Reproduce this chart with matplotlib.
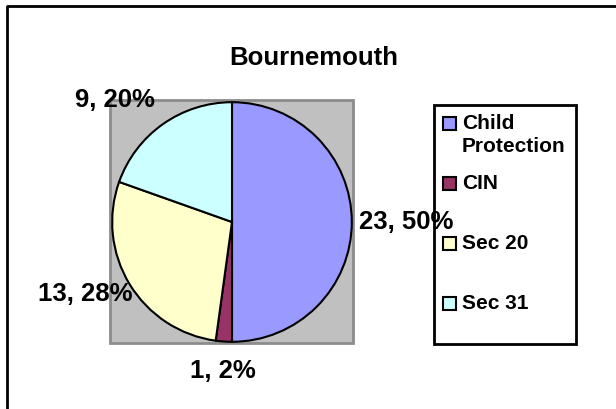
import matplotlib.pyplot as plt
import numpy as np
from matplotlib.patches import Rectangle

plt.rcParams['font.family'] = ['Liberation Sans', 'DejaVu Sans']

titulo = "Bournemouth"
categorias = ["Child\nProtection", "CIN", "Sec 20", "Sec 31"]
valores = [23, 1, 13, 9]
colores = ["#9999FF", "#993366", "#FFFFCC", "#CCFFFF"]

W, H = 616, 409
fig = plt.figure(figsize=(W / 100, H / 100), dpi=100)

# lienzo en pixeles (borde, titulo, leyenda)
lienzo = fig.add_axes([0, 0, 1, 1])
lienzo.set_xlim(0, W)
lienzo.set_ylim(H, 0)
lienzo.axis("off")

lienzo.plot([7, 7, W + 5], [H + 5, 5.5, 5.5], color="black", lw=2, clip_on=False)
lienzo.text(314, 58, titulo, ha="center", va="center", fontsize=18.5, fontweight="bold")

# area del grafico gris
lienzo.add_patch(Rectangle((110, 100), 243, 243, facecolor="#C0C0C0",
                           edgecolor="#8C8C8C", lw=2))

# leyenda
lienzo.add_patch(Rectangle((434, 105), 142, 239, facecolor="white", edgecolor="black", lw=2))
for i, (nombre, color) in enumerate(zip(categorias, colores)):
    y = 114 + 60 * i
    lienzo.add_patch(Rectangle((443, y + 3), 13, 13, facecolor=color,
                               edgecolor="black", lw=1.5))
    lienzo.text(462, y, nombre, ha="left", va="top", fontsize=15,
                fontweight="bold", linespacing=1.3)

# pastel
ax = fig.add_axes([111 / W, 1 - 343 / H, 242 / W, 242 / H])
wedges, _ = ax.pie(valores, colors=colores, startangle=90, counterclock=False,
                   wedgeprops=dict(edgecolor="black", linewidth=1.5))
ax.set_xlim(-1.01, 1.01)
ax.set_ylim(-1.01, 1.01)

total = sum(valores)
dist = [1.06, 1.15, 0.97, 1.12]
for w, v, d in zip(wedges, valores, dist):
    ang = np.deg2rad((w.theta1 + w.theta2) / 2)
    c, s = np.cos(ang), np.sin(ang)
    ha = "left" if c > 0.2 else ("right" if c < -0.2 else "center")
    va = "bottom" if s > 0.2 else ("top" if s < -0.2 else "center")
    ax.text(d * c, d * s, f"{v}, {v / total:.0%}", ha=ha, va=va,
            fontsize=18.5, fontweight="bold", clip_on=False)

fig.savefig("out.png", dpi=100)
